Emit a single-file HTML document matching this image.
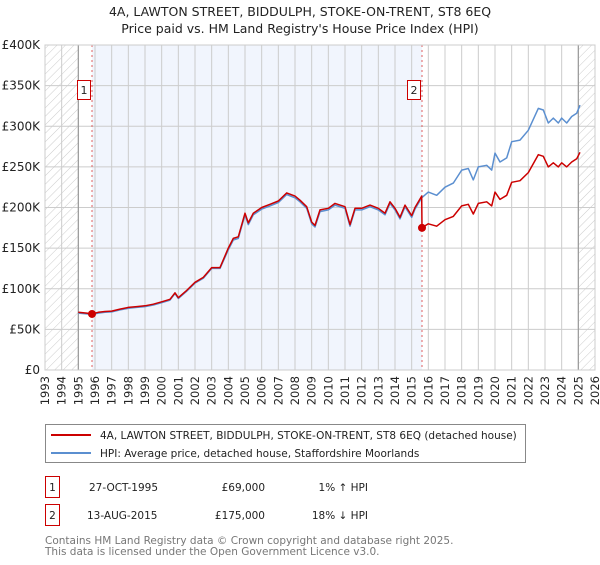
<!DOCTYPE html>
<html><head><meta charset="utf-8"><style>
body{margin:0;background:#fff;font-family:"Liberation Sans","DejaVu Sans",sans-serif;}
svg text{font-family:"DejaVu Sans","Liberation Sans",sans-serif;}
</style></head><body>
<svg id="chart" width="600" height="560" viewBox="0 0 600 560" xmlns="http://www.w3.org/2000/svg">
<defs>
<pattern id="hatch" width="6" height="6" patternUnits="userSpaceOnUse" patternTransform="rotate(45)">
<rect width="6" height="6" fill="#fff"/><line x1="0" y1="0" x2="0" y2="6" stroke="#ccc" stroke-width="1"/>
</pattern>
</defs>
<text x="300" y="16" text-anchor="middle" font-size="12.5" fill="#222">4A, LAWTON STREET, BIDDULPH, STOKE-ON-TRENT, ST8 6EQ</text>
<text x="300" y="33" text-anchor="middle" font-size="12.5" fill="#222">Price paid vs. HM Land Registry's House Price Index (HPI)</text>
<g id="plot"></g>
<g>
<rect x="45.5" y="424.5" width="480" height="38" fill="#fff" stroke="#888"/>
<line x1="51" y1="435" x2="91" y2="435" stroke="#cc0000" stroke-width="2"/>
<text x="100" y="439" font-size="10.5" fill="#222">4A, LAWTON STREET, BIDDULPH, STOKE-ON-TRENT, ST8 6EQ (detached house)</text>
<line x1="51" y1="453" x2="91" y2="453" stroke="#5b8fd0" stroke-width="2"/>
<text x="100" y="457" font-size="10.5" fill="#222">HPI: Average price, detached house, Staffordshire Moorlands</text>
</g>
<g font-size="10.5" fill="#222">
<rect x="45.5" y="476.5" width="14" height="21" fill="#fff" stroke="#cc0000"/>
<text x="52.5" y="491" text-anchor="middle">1</text>
<text x="89" y="491">27-OCT-1995</text>
<text x="265" y="491" text-anchor="end">£69,000</text>
<text x="368" y="491" text-anchor="end">1% ↑ HPI</text>
<rect x="45.5" y="504.5" width="14" height="21" fill="#fff" stroke="#cc0000"/>
<text x="52.5" y="519" text-anchor="middle">2</text>
<text x="87" y="519">13-AUG-2015</text>
<text x="265" y="519" text-anchor="end">£175,000</text>
<text x="368" y="519" text-anchor="end">18% ↓ HPI</text>
</g>
<text x="45" y="544" font-size="10.5" fill="#777">Contains HM Land Registry data © Crown copyright and database right 2025.</text>
<text x="45" y="555" font-size="10.5" fill="#777">This data is licensed under the Open Government Licence v3.0.</text>
</svg>
<script>
const hpiYears=[1995.0,1995.5,1995.82,1996.2,1996.6,1997.0,1997.5,1998.0,1998.5,1999.0,1999.5,2000.0,2000.5,2000.8,2001.0,2001.5,2002.0,2002.5,2003.0,2003.5,2004.0,2004.3,2004.6,2005.0,2005.2,2005.5,2006.0,2006.5,2007.0,2007.5,2008.0,2008.3,2008.7,2009.0,2009.2,2009.5,2010.0,2010.4,2011.0,2011.3,2011.6,2012.0,2012.5,2013.0,2013.4,2013.7,2014.0,2014.3,2014.6,2015.0,2015.2,2015.6,2016.0,2016.5,2017.0,2017.5,2018.0,2018.4,2018.7,2019.0,2019.5,2019.8,2020.0,2020.3,2020.7,2021.0,2021.5,2022.0,2022.6,2022.9,2023.2,2023.5,2023.8,2024.0,2024.3,2024.6,2024.9,2025.1];
const hpiValues=[70,69,68.3,70,71,71.5,74,76,77,78,80,83,86,94,88,97,107,113,125,125,148,160,162,191,179,191,198,202,206,216,212,207,199,180,176,195,197,203,199,177,197,197,201,197,191,205,197,186,201,188,198,212,219,215,225,230,246,248,234,250,252,246,267,256,261,281,283,295,322,320,304,310,304,310,304,312,316,326];
const priceYears=[1995.0,1995.5,1995.82,1996.2,1996.6,1997.0,1997.5,1998.0,1998.5,1999.0,1999.5,2000.0,2000.5,2000.8,2001.0,2001.5,2002.0,2002.5,2003.0,2003.5,2004.0,2004.3,2004.6,2005.0,2005.2,2005.5,2006.0,2006.5,2007.0,2007.5,2008.0,2008.3,2008.7,2009.0,2009.2,2009.5,2010.0,2010.4,2011.0,2011.3,2011.6,2012.0,2012.5,2013.0,2013.4,2013.7,2014.0,2014.3,2014.6,2015.0,2015.2,2015.6,2015.62,2016.0,2016.5,2017.0,2017.5,2018.0,2018.4,2018.7,2019.0,2019.5,2019.8,2020.0,2020.3,2020.7,2021.0,2021.5,2022.0,2022.6,2022.9,2023.2,2023.5,2023.8,2024.0,2024.3,2024.6,2024.9,2025.1];
const priceValues=[71,70,69,71,72,72.5,75,77,78,79,81,84,87,95,89,98,108,114,126,126,150,162,164,193,181,193,200,204,208,218,214,209,201,182,178,197,199,205,201,179,199,199,203,199,193,207,199,188,203,190,200,214,175,180,177,185,189,202,204,192,205,207,202,219,210,215,231,233,243,265,263,250,255,250,255,250,256,260,268];
const sales=[{n:"1",t:1995.82,v:69},{n:"2",t:2015.62,v:175}];
const yTicks=[0,50,100,150,200,250,300,350,400];
const yLabels=["£0","£50K","£100K","£150K","£200K","£250K","£300K","£350K","£400K"];
const xTicks=[1993,1994,1995,1996,1997,1998,1999,2000,2001,2002,2003,2004,2005,2006,2007,2008,2009,2010,2011,2012,2013,2014,2015,2016,2017,2018,2019,2020,2021,2022,2023,2024,2025,2026];

const X0=45,X1=595,Y0=370,Y1=45;
const xs=t=>X0+(t-1993)/(2026-1993)*(X1-X0);
const ys=v=>Y0-v/400*(Y0-Y1);
const NS="http://www.w3.org/2000/svg";
const g=document.getElementById('plot');
function mk(tag,attrs,parent){const e=document.createElementNS(NS,tag);for(const k in attrs)e.setAttribute(k,attrs[k]);(parent||g).appendChild(e);return e;}

let r;
r=mk('rect',{x:X0,y:Y1,width:X1-X0,height:Y0-Y1,fill:'#fff'});


r=mk('rect',{x:xs(sales[0].t),y:Y1,width:xs(sales[1].t)-xs(sales[0].t),height:Y0-Y1,fill:'#eef3fc',opacity:0.8});


r=mk('rect',{x:X0,y:Y1,width:xs(1995)-X0,height:Y0-Y1,fill:'url(#hatch)'});


r=mk('rect',{x:xs(2025),y:Y1,width:X1-xs(2025),height:Y0-Y1,fill:'url(#hatch)'});



xTicks.forEach((t,i)=>{
  const l=mk('line',{x1:xs(t),x2:xs(t),y1:Y1,y2:Y0,stroke:'#ccc','stroke-width':1});
  
  
  const tx=mk('text',{x:0,y:0,'font-size':11.5,fill:'#222','text-anchor':'end',transform:`translate(${xs(t)+4},376) rotate(-90)`});
  tx.textContent=t;
  
  
});
yTicks.forEach((v,i)=>{
  const l=mk('line',{x1:X0,x2:X1,y1:ys(v),y2:ys(v),stroke:'#ccc','stroke-width':1});
  
  
  const tx=mk('text',{x:40,y:ys(v)+4,'font-size':12,fill:'#222','text-anchor':'end'});
  tx.textContent=yLabels[i];
  
  
});
let ln=mk('line',{x1:xs(1995),x2:xs(1995),y1:Y1,y2:Y0,stroke:'#999','stroke-width':1.2});


ln=mk('line',{x1:xs(2025),x2:xs(2025),y1:Y1,y2:Y0,stroke:'#999','stroke-width':1.2});



sales.forEach(s=>{
  const l=mk('line',{x1:xs(s.t),x2:xs(s.t),y1:Y1,y2:Y0,stroke:'#e06060','stroke-width':1,'stroke-dasharray':'2,3'});
  
  
});

function path(xa,va){return xa.map((t,i)=>(i?'L':'M')+xs(t).toFixed(1)+','+ys(va[i]).toFixed(1)).join('');}
let p=mk('path',{d:path(hpiYears,hpiValues),fill:'none',stroke:'#5b8fd0','stroke-width':1.5,'stroke-linejoin':'round'});


p=mk('path',{d:path(priceYears,priceValues),fill:'none',stroke:'#cc0000','stroke-width':1.5,'stroke-linejoin':'round'});



sales.forEach(s=>{
  const c=mk('circle',{cx:xs(s.t),cy:ys(s.v),r:4,fill:'#cc0000'});
  
  
  const bx=mk('rect',{x:xs(s.t)-14.5,y:80.5,width:13,height:19,fill:'#fff',stroke:'#cc0000'});
  
  
  const tx=mk('text',{x:xs(s.t)-8,y:94,'font-size':11,fill:'#222','text-anchor':'middle'});
  tx.textContent=s.n;
  
  
});
r=mk('rect',{x:X0,y:Y1,width:X1-X0,height:Y0-Y1,fill:'none',stroke:'#ccc'});


</script>
</body></html>
